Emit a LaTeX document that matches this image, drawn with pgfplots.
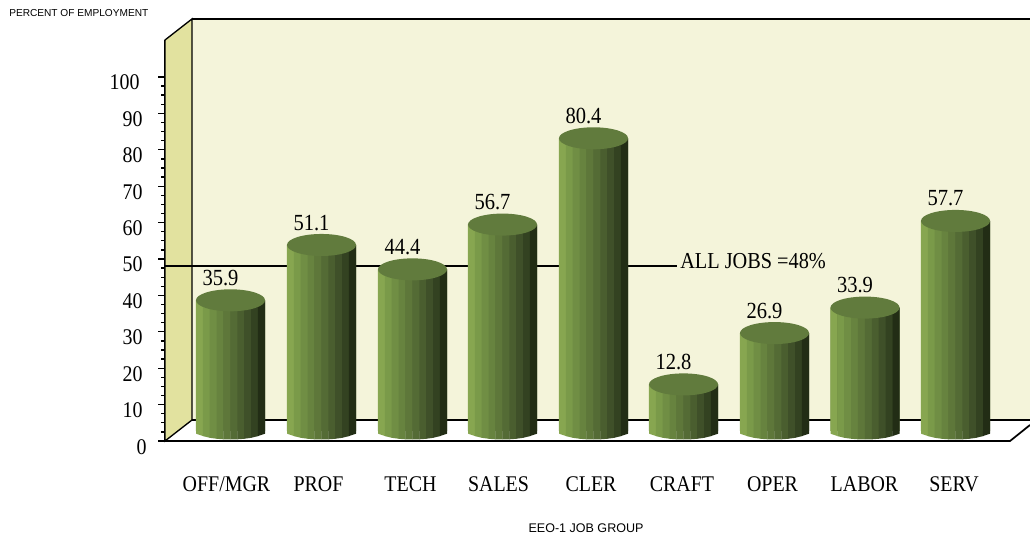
\documentclass[border=0pt]{standalone}
\usepackage{pgfplots}
\usepackage{pgfplotstable}
\usepackage{fontspec}
\setmainfont{Liberation Serif}
\newfontfamily\arialf{Liberation Sans}
\newfontfamily\tallf[FakeStretch=0.89]{Liberation Serif}
\pgfplotsset{compat=1.18}
\definecolor{wallback}{HTML}{F4F4DA}
\definecolor{wallleft}{HTML}{E2E29F}
\definecolor{cyltopc}{HTML}{617B3D}
\definecolor{sA}{HTML}{87A650}
\definecolor{sB}{HTML}{7A9A49}
\definecolor{sC}{HTML}{708E44}
\definecolor{sD}{HTML}{67833F}
\definecolor{sE}{HTML}{5E773A}
\definecolor{sF}{HTML}{546B35}
\definecolor{sG}{HTML}{4A5E2F}
\definecolor{sH}{HTML}{3F5029}
\definecolor{sI}{HTML}{334221}
\definecolor{sJ}{HTML}{222D15}
\pgfplotstableread{
x v
230.5 35.9
321.5 51.1
412.5 44.4
502.5 56.7
593.5 80.4
683.5 12.8
774.5 26.9
865 33.9
955.5 57.7
}\jobdata
\newcommand{\bs}[5]{\pgfsetfillcolor{#1}\pgfpathmoveto{\pgfqpoint{#2pt}{0pt}}\pgfpathlineto{\pgfqpoint{#4pt}{0pt}}\pgfpathlineto{\pgfqpoint{#4pt}{-#5pt}}\pgfpathlineto{\pgfqpoint{#2pt}{-#3pt}}\pgfpathclose\pgfusepathqfill}
\pgfdeclareplotmark{cyltop}{\pgfsetfillcolor{cyltopc}\pgfpathellipse{\pgfpointorigin}{\pgfqpoint{25.9pt}{0pt}}{\pgfqpoint{0pt}{8.25pt}}\pgfusepathqfill}
\pgfdeclareplotmark{cylbase}{%
\bs{sA}{-25.875}{2.0}{-20.6}{3.825}%
\bs{sB}{-20.8}{3.825}{-15.425}{5.1}%
\bs{sC}{-15.625}{5.1}{-10.25}{5.84}%
\bs{sD}{-10.45}{5.84}{-5.075}{6.25}%
\bs{sE}{-5.275}{6.25}{0.1}{6.375}%
\bs{sF}{-0.1}{6.375}{5.275}{6.25}%
\bs{sG}{5.075}{6.25}{10.45}{5.84}%
\bs{sH}{10.25}{5.84}{15.625}{5.1}%
\bs{sI}{15.425}{5.1}{20.8}{3.825}%
\bs{sJ}{20.6}{3.825}{25.875}{2.0}}
\newcommand{\strip}[2]{\addplot[ybar,bar width=5.35pt,bar shift=#2pt,fill=#1,draw=none] table[x=x,y=v] {\jobdata};}
\begin{document}
\begin{tikzpicture}[x=1pt,y=1pt]
\path[use as bounding box] (0,0) rectangle (772.5pt,402.75pt);
\begin{axis}[
  at={(123.75pt,72pt)},anchor=south west,
  scale only axis,width=648.75pt,height=300.75pt,
  xmin=165,xmax=1030,ymin=-2.75,ymax=107.4,
  clip=false,
  axis x line*=bottom,axis y line*=left,
  x axis line style={draw=none},
  y axis line style={black,line width=1pt,-},
  xtick={226.5,318.5,410.5,498.5,591,682,772.5,864.5,954},
  xticklabels={OFF/MGR,PROF,TECH,SALES,CLER,CRAFT,OPER,LABOR,SERV},
  xtick style={draw=none},
  xticklabel style={font=\tallf\fontsize{16.8}{18}\selectfont,anchor=center,yshift=-27.5pt},
  ytick={-2.75,7.25,17.25,27.25,37.25,47.25,57.25,67.25,77.25,87.25,97.25},
  yticklabels={0\kern-3pt,10,20,30,40,50,60,70,80,90,100\kern2.25pt},
  minor y tick num=3,
  ytick style={black,line width=1pt},
  major tick length=5.25pt,minor tick length=3pt,
  tick align=outside,
  yticklabel style={font=\tallf\fontsize{16.8}{18}\selectfont,anchor=east,xshift=-8pt,yshift=-4.25pt},
]
\addplot[fill=wallback,draw=none] coordinates {(192,113.19)(1030,113.19)(1030,3.02)(192,3.02)} --cycle;
\addplot[fill=white,draw=none] coordinates {(165,-2.75)(192,3.02)(1030,3.02)(1030,1.65)(1010,-2.75)} --cycle;
\addplot[fill=wallleft,draw=black,line width=1pt] coordinates {(165,-2.75)(192,3.02)(192,113.19)(165,107.4)} --cycle;
\addplot[black,line width=1pt] coordinates {(192,113.19)(1030,113.19)};
\addplot[black,line width=1.1pt] coordinates {(192,3.02)(1030,3.02)};
\addplot[black,line width=1.3pt] coordinates {(1030,1.65)(1010,-2.75)(165,-2.75)};
\addplot[black,line width=0.9pt] coordinates {(165,45.33)(677,45.33)};
\addplot[draw=none,mark=none,nodes near coords={ALL JOBS =48\%},point meta=explicit symbolic,
  every node near coord/.append style={anchor=west,font=\tallf\fontsize{17.1}{18}\selectfont,yshift=3.5pt,inner sep=0pt,xshift=1.5pt}] coordinates {(678,45.33) [a]};
\addplot[only marks,mark=cylbase] table[x=x,y expr=0] {\jobdata};
\addplot[ybar,bar width=51.75pt,bar shift=0pt,fill=sF,draw=none] table[x=x,y=v] {\jobdata};
\strip{sA}{-23.2875}
\strip{sB}{-18.1125}
\strip{sC}{-12.9375}
\strip{sD}{-7.7625}
\strip{sE}{-2.5875}
\strip{sF}{2.5875}
\strip{sG}{7.7625}
\strip{sH}{12.9375}
\strip{sI}{18.1125}
\strip{sJ}{23.2875}
\addplot[only marks,mark=cyltop,point meta=explicit symbolic,nodes near coords={\pgfplotspointmeta},
  every node near coord/.append style={anchor=center,font=\tallf\fontsize{17.3}{18}\selectfont,xshift=-7.5pt,yshift=16.75pt,inner sep=0pt}]
  table[x=x,y=v,meta=v] {\jobdata};
\end{axis}
\node[font=\arialf\fontsize{7.6}{9}\selectfont,anchor=west,inner sep=0pt] at (6.75pt,393pt) {PERCENT OF EMPLOYMENT};
\node[font=\arialf\fontsize{9.4}{11}\selectfont,anchor=center,inner sep=0pt] at (439.5pt,6.5pt) {EEO-1 JOB GROUP};
\end{tikzpicture}
\end{document}
